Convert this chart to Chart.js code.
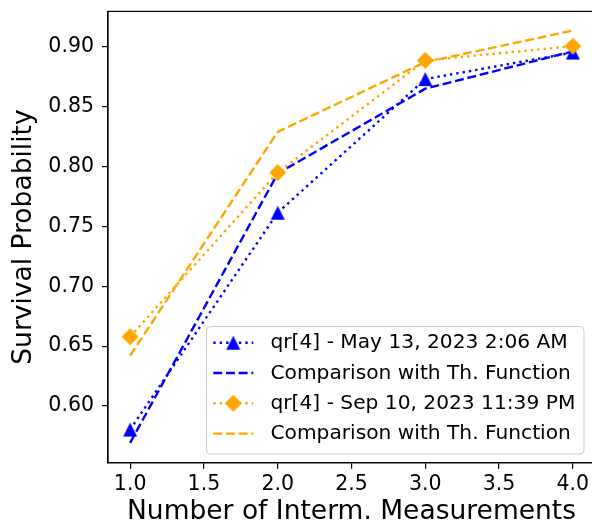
<!DOCTYPE html>
<html>
<head>
<meta charset="utf-8">
<script src="https://cdn.jsdelivr.net/npm/chart.js@4/dist/chart.umd.min.js"></script>
<style>
  html, body { margin: 0; padding: 0; background: #fff; overflow: hidden; }
  #wrap { width: 610px; height: 525px; }
</style>
</head>
<body>
<div id="wrap"><canvas id="c" width="610" height="525"></canvas></div>
<script>
// ---- data ----
const xValues = [1, 2, 3, 4];
const may13Measured = [0.5804, 0.7613, 0.8728, 0.8950];
const may13Theory   = [0.5693, 0.7940, 0.8648, 0.8960];
const sep10Measured = [0.6579, 0.7948, 0.8884, 0.9003];
const sep10Theory   = [0.6421, 0.8288, 0.8870, 0.9133];
const seriesLabels = [
  'qr[4] - May 13, 2023 2:06 AM',
  'Comparison with Th. Function',
  'qr[4] - Sep 10, 2023 11:39 PM',
  'Comparison with Th. Function'
];
const xTicks = [1.0, 1.5, 2.0, 2.5, 3.0, 3.5, 4.0];
const yTicks = [0.60, 0.65, 0.70, 0.75, 0.80, 0.85, 0.90];
const xTitle = 'Number of Interm. Measurements';
const yTitle = 'Survival Probability';

const BLUE = '#0000ff';
const ORANGE = '#ffa500';
const FONT = "'DejaVu Sans'";

function makeTriangle(color) {
  const c = document.createElement('canvas');
  c.width = 16; c.height = 16;
  const g = c.getContext('2d');
  g.fillStyle = color;
  g.beginPath();
  g.moveTo(8, 1); g.lineTo(15, 15); g.lineTo(1, 15); g.closePath();
  g.fill();
  return c;
}
function makeDiamond(color) {
  const c = document.createElement('canvas');
  c.width = 19; c.height = 19;
  const g = c.getContext('2d');
  g.fillStyle = color;
  g.beginPath();
  g.moveTo(9.5, 1); g.lineTo(18, 9.5); g.lineTo(9.5, 18); g.lineTo(1, 9.5); g.closePath();
  g.fill();
  return c;
}
const triImg = makeTriangle(BLUE);
const diaImg = makeDiamond(ORANGE);

const toPts = arr => xValues.map((x, i) => ({x: x, y: arr[i]}));
const LW = 2.4;
const DOT = [2.4, 4.0];
const DASH = [8.9, 3.8];

const datasets = [
  { label: seriesLabels[0], data: toPts(may13Measured), borderColor: BLUE, backgroundColor: BLUE,
    borderWidth: LW, borderDash: DOT, pointStyle: triImg, pointRadius: 8, order: 3, _marker: triImg },
  { label: seriesLabels[1], data: toPts(may13Theory), borderColor: BLUE, backgroundColor: BLUE,
    borderWidth: LW, borderDash: DASH, pointRadius: 0, order: 2 },
  { label: seriesLabels[2], data: toPts(sep10Measured), borderColor: ORANGE, backgroundColor: ORANGE,
    borderWidth: LW, borderDash: DOT, pointStyle: diaImg, pointRadius: 9, order: 1, _marker: diaImg },
  { label: seriesLabels[3], data: toPts(sep10Theory), borderColor: ORANGE, backgroundColor: ORANGE,
    borderWidth: LW, borderDash: DASH, pointRadius: 0, order: 0 }
];
datasets.forEach(d => { d.tension = 0; d.fill = false; d.borderCapStyle = 'butt'; d.pointHoverRadius = d.pointRadius; });

const framePlugin = {
  id: 'frame',
  afterDatasetsDraw(chart) {
    const {ctx, chartArea: a} = chart;
    ctx.save();
    ctx.strokeStyle = '#000';
    ctx.lineWidth = 1.2;
    ctx.strokeRect(a.left, a.top, a.right - a.left, a.bottom - a.top);
    ctx.restore();
  }
};

const legendPlugin = {
  id: 'mplLegend',
  afterDraw(chart) {
    const ctx = chart.ctx;
    const bx = 206.5, by = 326.5, bw = 377.5, bh = 127.5, r = 4;
    ctx.save();
    ctx.beginPath();
    ctx.moveTo(bx + r, by);
    ctx.arcTo(bx + bw, by, bx + bw, by + bh, r);
    ctx.arcTo(bx + bw, by + bh, bx, by + bh, r);
    ctx.arcTo(bx, by + bh, bx, by, r);
    ctx.arcTo(bx, by, bx + bw, by, r);
    ctx.closePath();
    ctx.fillStyle = 'rgba(255,255,255,0.8)';
    ctx.fill();
    ctx.strokeStyle = '#cccccc';
    ctx.lineWidth = 1;
    ctx.stroke();
    const rowY0 = 342.7, rowStep = 30.3;
    chart.data.datasets.forEach((ds, i) => {
      const y = rowY0 + i * rowStep;
      ctx.beginPath();
      ctx.setLineDash(ds.borderDash);
      ctx.lineCap = 'butt';
      ctx.strokeStyle = ds.borderColor;
      ctx.lineWidth = ds.borderWidth;
      ctx.moveTo(213.3, y); ctx.lineTo(253.3, y);
      ctx.stroke();
      ctx.setLineDash([]);
      if (ds._marker) {
        const m = ds._marker;
        ctx.drawImage(m, 233.3 - m.width / 2, y - m.height / 2);
      }
      ctx.fillStyle = '#000';
      ctx.font = '20.2px ' + FONT;
      ctx.textBaseline = 'middle';
      ctx.textAlign = 'left';
      ctx.fillText(ds.label, 270.5, y + 0.5);
    });
    ctx.restore();
  }
};

new Chart(document.getElementById('c'), {
  type: 'line',
  data: { datasets: datasets },
  options: {
    responsive: false,
    animation: false,
    events: [],
    layout: { padding: { left: 0, top: 9, right: 15, bottom: 0 } },
    plugins: { legend: { display: false }, tooltip: { enabled: false } },
    scales: {
      x: {
        type: 'linear',
        min: 0.85, max: 4.15,
        afterBuildTicks: s => { s.ticks = xTicks.map(v => ({value: v})); },
        afterFit: s => { s.height = 62.3; s.paddingLeft = 0; s.paddingRight = 0; },
        grid: { display: true, drawOnChartArea: false, drawTicks: true, tickLength: 6, color: '#000', lineWidth: 1.2 },
        border: { display: true, color: '#000', width: 1.2 },
        ticks: { callback: v => Number(v).toFixed(1), color: '#000', font: { family: FONT, size: 20.5 }, padding: 4, maxRotation: 0, autoSkip: false },
        title: { display: true, text: xTitle, color: '#000', font: { family: FONT, size: 26.5, lineHeight: 1.0 }, padding: 0 }
      },
      y: {
        type: 'linear',
        min: 0.5527, max: 0.9293,
        afterBuildTicks: s => { s.ticks = yTicks.map(v => ({value: v})); },
        afterFit: s => { s.width = 108; s.paddingTop = 0; s.paddingBottom = 0; },
        grid: { display: true, drawOnChartArea: false, drawTicks: true, tickLength: 6, color: '#000', lineWidth: 1.2 },
        border: { display: true, color: '#000', width: 1.2 },
        ticks: { callback: v => Number(v).toFixed(2), color: '#000', font: { family: FONT, size: 20.5 }, padding: 8, autoSkip: false },
        title: { display: true, text: yTitle, color: '#000', font: { family: FONT, size: 26.5, lineHeight: 1.0 }, padding: { top: 10.75, bottom: 0 } }
      }
    }
  },
  plugins: [framePlugin, legendPlugin]
});
</script>
</body>
</html>
